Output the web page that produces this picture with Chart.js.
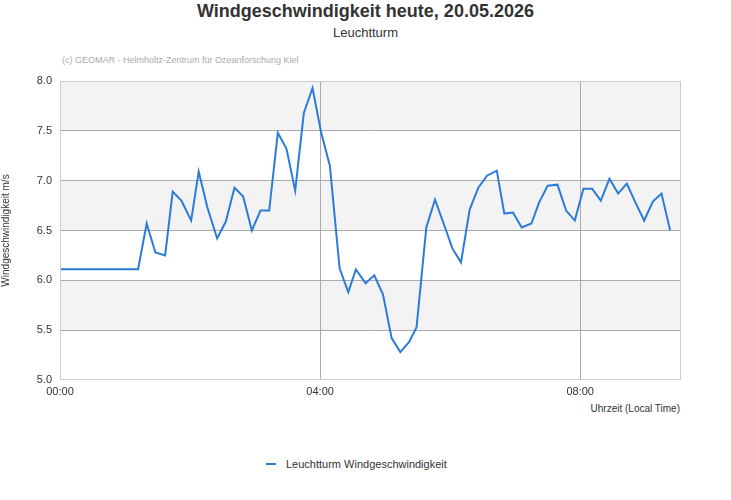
<!DOCTYPE html>
<html><head><meta charset="utf-8">
<script src="https://cdn.jsdelivr.net/npm/chart.js@4"></script>
<style>
body{margin:0;width:731px;height:500px;position:relative;font-family:"Liberation Sans",Arial,sans-serif;background:#fff;overflow:hidden}
#c{position:absolute;left:0;top:0}
.t{position:absolute;left:0;width:731px;text-align:center}
</style></head><body>
<div class="t" style="top:1px;font-size:18px;font-weight:bold;color:#333">Windgeschwindigkeit heute, 20.05.2026</div>
<div class="t" style="top:25px;font-size:13px;color:#333">Leuchtturm</div>
<div style="position:absolute;left:62px;top:55px;font-size:9px;color:#aaa">(c) GEOMAR - Helmholtz-Zentrum für Ozeanforschung Kiel</div>
<div style="position:absolute;right:51px;top:403px;font-size:10px;color:#333">Uhrzeit (Local Time)</div>
<div style="position:absolute;left:266px;top:458px;font-size:11px;color:#333;display:flex;align-items:center"><span style="display:inline-block;width:10px;height:2px;background:#2b7bd9;margin-right:10px"></span>Leuchtturm Windgeschwindigkeit</div>
<canvas id="c" width="731" height="500"></canvas>
<script>
const minutes=[0,72,80,88,97,104,112,121,128,136,145,153,161,169,177,185,193,201,209,217,225,233,241,249,258,266,273,282,290,298,306,314,322,329,338,346,354,362,370,378,386,394,403,410,418,426,435,442,450,459,467,475,483,491,499,507,515,523,531,539,547,555,563];
const speed=[6.11,6.11,6.57,6.28,6.25,6.89,6.80,6.60,7.09,6.73,6.42,6.59,6.93,6.84,6.50,6.70,6.70,7.48,7.32,6.90,7.68,7.93,7.48,7.15,6.12,5.88,6.11,5.97,6.05,5.86,5.42,5.28,5.38,5.53,6.53,6.81,6.57,6.32,6.18,6.71,6.93,7.05,7.10,6.67,6.68,6.53,6.57,6.78,6.95,6.96,6.70,6.60,6.92,6.92,6.80,7.02,6.87,6.97,6.78,6.60,6.79,6.87,6.50];
const xTicks=[0,240,480];
const yTicks=[5.0,5.5,6.0,6.5,7.0,7.5,8.0];
const bands=[[5.5,6.0],[6.5,7.0],[7.5,8.0]];
const fmt=m=>String(Math.floor(m/60)).padStart(2,'0')+':'+String(m%60).padStart(2,'0');
Chart.defaults.font.family='"Liberation Sans",Arial,sans-serif';
const bg={id:'bg',beforeDraw(ch){const {ctx,chartArea:a,scales:{y}}=ch;ctx.save();ctx.fillStyle='#f3f3f3';
bands.forEach(b=>{const t=y.getPixelForValue(b[1]),u=y.getPixelForValue(b[0]);ctx.fillRect(a.left,t,a.right-a.left,u-t);});ctx.restore();},
afterDraw(ch){const {ctx,chartArea:a}=ch;ctx.save();ctx.strokeStyle='#ccc';ctx.lineWidth=1;ctx.strokeRect(a.left+0.5,a.top+0.5,a.right-a.left-1,a.bottom-a.top-1);ctx.restore();}};
new Chart(document.getElementById('c'),{type:'line',
data:{datasets:[{data:minutes.map((m,i)=>({x:m,y:speed[i]})),borderColor:'#2b7bd9',borderWidth:2,pointRadius:0,tension:0,fill:false}]},
options:{responsive:false,animation:false,layout:{padding:{left:0,top:81,right:50,bottom:0}},
plugins:{legend:{display:false},tooltip:{enabled:false}},
scales:{
x:{type:'linear',min:0,max:573,afterBuildTicks:s=>{s.ticks=xTicks.map(v=>({value:v}));},afterFit:s=>{s.height=120;},
ticks:{callback:v=>fmt(v),color:'#333',font:{size:11},padding:5,maxRotation:0},
grid:{color:c=>c.tick&&c.tick.value===0?'rgba(0,0,0,0)':'#aaa',drawTicks:false},border:{display:false}},
y:{min:5,max:8,afterBuildTicks:s=>{s.ticks=yTicks.map(v=>({value:v}));},afterFit:s=>{s.width=60;},
ticks:{callback:v=>v.toFixed(1),color:'#333',font:{size:11},padding:8},
grid:{color:c=>c.tick&&(c.tick.value===5||c.tick.value===8)?'rgba(0,0,0,0)':'#aaa',drawTicks:false},border:{display:false},
title:{display:true,text:'Windgeschwindigkeit m/s',color:'#333',font:{size:10},padding:0}}}},
plugins:[bg]});
</script></body></html>
